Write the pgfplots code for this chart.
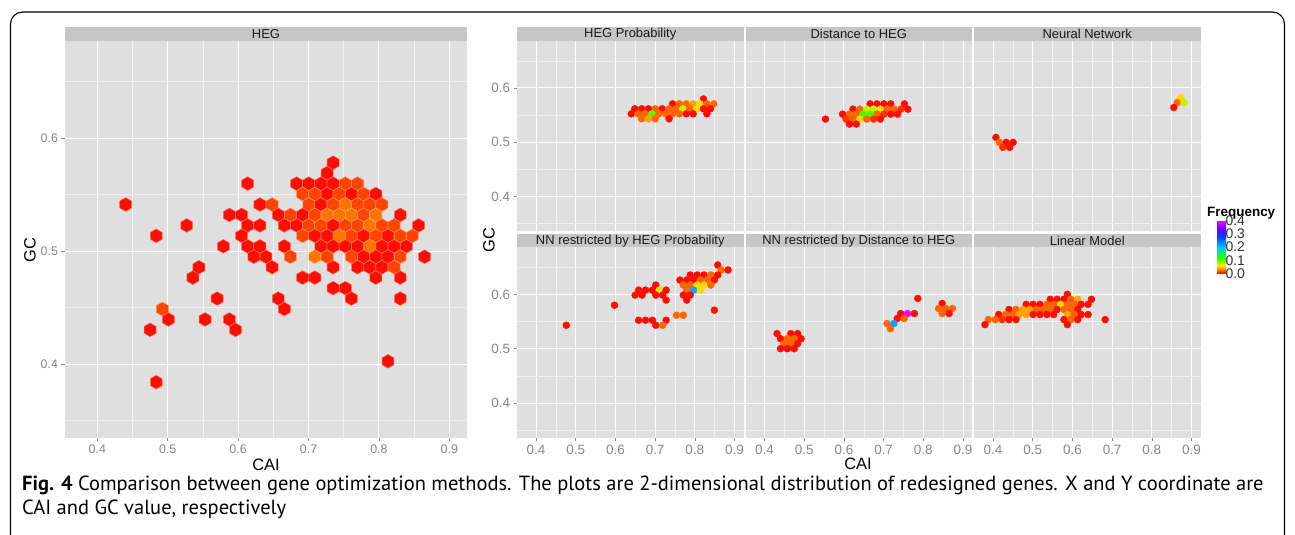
\documentclass[border=0pt]{standalone}
\usepackage{fontspec}
\setmainfont{Liberation Sans}
\newfontfamily\capfont{PT Sans}
\usepackage{pgfplots}
\pgfplotsset{compat=1.18}
\definecolor{panelbg}{HTML}{DFDFDF}
\definecolor{stripbg}{HTML}{C6C6C6}
\definecolor{ticklab}{HTML}{888888}
\definecolor{striptext}{HTML}{1A1A1A}

\pgfdeclareplotmark{hexa}{%
  \pgfpathmoveto{\pgfqpointpolar{90}{\pgfplotmarksize}}%
  \pgfpathlineto{\pgfqpointpolar{150}{\pgfplotmarksize}}%
  \pgfpathlineto{\pgfqpointpolar{210}{\pgfplotmarksize}}%
  \pgfpathlineto{\pgfqpointpolar{270}{\pgfplotmarksize}}%
  \pgfpathlineto{\pgfqpointpolar{330}{\pgfplotmarksize}}%
  \pgfpathlineto{\pgfqpointpolar{30}{\pgfplotmarksize}}%
  \pgfpathclose
  \pgfusepathqfillstroke}

\pgfplotsset{
  colormap={freq}{rgb255(0cm)=(255,0,0) rgb255(3cm)=(255,128,0) rgb255(6cm)=(255,235,0) rgb255(12cm)=(40,255,0) rgb255(20cm)=(0,200,255) rgb255(28cm)=(0,60,255) rgb255(34cm)=(110,0,255) rgb255(40cm)=(255,0,255)},
  facet/.style={
    scale only axis,
    axis background/.style={fill=panelbg},
    axis line style={draw=none},
    grid=both,
    major grid style={white, line width=0.9bp},
    minor grid style={white!55!panelbg, line width=0.5bp},
    xtick={0.4,0.5,0.6,0.7,0.8,0.9},
    minor xtick={0.35,0.45,0.55,0.65,0.75,0.85},
    ytick={0.4,0.5,0.6},
    minor ytick={0.35,0.45,0.55,0.65},
    tick pos=left,
    tick align=outside,
    major tick length=3.5bp,
    minor tick length=0pt,
    tick style={ticklab, line width=0.6bp},
    tick label style={text=ticklab, font=\fontsize{13.5}{13.5}\selectfont},
    /pgf/number format/assume math mode=true,
    colormap name=freq,
    point meta min=0, point meta max=0.4,
  },
  rpanel/.style={facet, width=226.5bp, height=190.5bp, xmin=0.352, xmax=0.9227, ymin=0.3355, ymax=0.6865},
  nox/.style={xticklabel=\empty, xtick style={draw=none}},
  noy/.style={yticklabel=\empty, ytick style={draw=none}},
  dots/.style={scatter, only marks, mark=*, mark size=3.5bp, point meta=explicit,
    scatter/use mapped color={draw=mapped color, fill=mapped color}},
}

\begin{document}
\begin{tikzpicture}
\useasboundingbox (0bp,0bp) rectangle (1295bp,535bp);
\begin{scope}[x=1bp,y=1bp]
\fill[white] (0,0) rectangle (1295,535);
\clip (0,0) rectangle (1295,535);
\draw[line width=1.1bp, rounded corners=12bp] (10.5,523) rectangle (1284.5,-40);
\end{scope}

% ---------------- left panel: HEG ----------------
\begin{axis}[facet, at={(65bp,494bp)}, anchor=north west, width=402bp, height=397bp,
  xmin=0.3541, xmax=0.9251, ymin=0.3345, ymax=0.6858,
  tick label style={font=\fontsize{12.5}{12.5}\selectfont}]
\addplot[scatter, only marks, mark=hexa, mark size=6.9bp, point meta=explicit,
  mark options={line width=0.5bp},
  scatter/use mapped color={draw=mapped color!60!white, fill=mapped color}] table[meta=c] {
x y c
0.7349 0.5781 0.003
0.7263 0.5689 0.003
0.6136 0.5596 0.003
0.6830 0.5596 0.003
0.7003 0.5596 0.003
0.7176 0.5596 0.003
0.7349 0.5596 0.003
0.7523 0.5596 0.016
0.7696 0.5596 0.016
0.6916 0.5504 0.016
0.7089 0.5504 0.016
0.7263 0.5504 0.003
0.7436 0.5504 0.016
0.7609 0.5504 0.003
0.7783 0.5504 0.016
0.7956 0.5504 0.003
0.4403 0.5411 0.003
0.6310 0.5411 0.003
0.6483 0.5411 0.016
0.7003 0.5411 0.016
0.7176 0.5411 0.003
0.7349 0.5411 0.016
0.7523 0.5411 0.027
0.7696 0.5411 0.016
0.7869 0.5411 0.016
0.8043 0.5411 0.016
0.5876 0.5319 0.003
0.6050 0.5319 0.003
0.6570 0.5319 0.003
0.6743 0.5319 0.016
0.6916 0.5319 0.003
0.7089 0.5319 0.016
0.7263 0.5319 0.027
0.7436 0.5319 0.027
0.7609 0.5319 0.027
0.7783 0.5319 0.016
0.7956 0.5319 0.027
0.8303 0.5319 0.003
0.5270 0.5226 0.003
0.6136 0.5226 0.003
0.6310 0.5226 0.003
0.6656 0.5226 0.003
0.6830 0.5226 0.003
0.7003 0.5226 0.016
0.7176 0.5226 0.016
0.7349 0.5226 0.003
0.7523 0.5226 0.016
0.7696 0.5226 0.016
0.7869 0.5226 0.027
0.8043 0.5226 0.016
0.8216 0.5226 0.016
0.8563 0.5226 0.003
0.4837 0.5134 0.003
0.6050 0.5134 0.003
0.6916 0.5134 0.016
0.7089 0.5134 0.003
0.7263 0.5134 0.003
0.7436 0.5134 0.027
0.7609 0.5134 0.016
0.7783 0.5134 0.003
0.7956 0.5134 0.016
0.8129 0.5134 0.003
0.8303 0.5134 0.016
0.8476 0.5134 0.016
0.5790 0.5041 0.003
0.6136 0.5041 0.003
0.6310 0.5041 0.003
0.6656 0.5041 0.003
0.7176 0.5041 0.003
0.7349 0.5041 0.003
0.7523 0.5041 0.003
0.7696 0.5041 0.003
0.7869 0.5041 0.027
0.8043 0.5041 0.003
0.8216 0.5041 0.003
0.8389 0.5041 0.003
0.6223 0.4949 0.003
0.6396 0.4949 0.003
0.6743 0.4949 0.016
0.7089 0.4949 0.027
0.7263 0.4949 0.016
0.7609 0.4949 0.016
0.7783 0.4949 0.003
0.7956 0.4949 0.003
0.8129 0.4949 0.003
0.8303 0.4949 0.016
0.8649 0.4949 0.003
0.5443 0.4856 0.003
0.6483 0.4856 0.003
0.7349 0.4856 0.003
0.7696 0.4856 0.003
0.7869 0.4856 0.003
0.8043 0.4856 0.003
0.8216 0.4856 0.016
0.5356 0.4764 0.003
0.6916 0.4764 0.003
0.7089 0.4764 0.003
0.7956 0.4764 0.003
0.8303 0.4764 0.003
0.7349 0.4671 0.003
0.7523 0.4671 0.003
0.5703 0.4579 0.003
0.6570 0.4579 0.003
0.7609 0.4579 0.003
0.8303 0.4579 0.003
0.4923 0.4486 0.016
0.6656 0.4486 0.003
0.5010 0.4394 0.003
0.5530 0.4394 0.003
0.5876 0.4394 0.003
0.4750 0.4302 0.003
0.5963 0.4302 0.003
0.8129 0.4024 0.003
0.4837 0.3839 0.003
};
\end{axis}

% ---------------- right: row 1 ----------------
\begin{axis}[rpanel, nox, at={(517bp,494bp)}, anchor=north west]
\addplot[dots] table[meta=c] {
x y c
0.8218 0.5798 0.003
0.7439 0.5706 0.003
0.7612 0.5706 0.024
0.7785 0.5706 0.024
0.7958 0.5706 0.040
0.8131 0.5706 0.055
0.8304 0.5706 0.024
0.8477 0.5706 0.024
0.6487 0.5615 0.003
0.6660 0.5615 0.003
0.6833 0.5615 0.003
0.7006 0.5615 0.024
0.7179 0.5615 0.003
0.7352 0.5615 0.024
0.7525 0.5615 0.024
0.7698 0.5615 0.075
0.7871 0.5615 0.024
0.8045 0.5615 0.055
0.8218 0.5615 0.003
0.8391 0.5615 0.003
0.6400 0.5523 0.003
0.6574 0.5523 0.024
0.6747 0.5523 0.024
0.6920 0.5523 0.110
0.7093 0.5523 0.024
0.7266 0.5523 0.024
0.7439 0.5523 0.024
0.7612 0.5523 0.024
0.7785 0.5523 0.003
0.7958 0.5523 0.003
0.8304 0.5523 0.003
0.6660 0.5431 0.024
0.6833 0.5431 0.040
0.7006 0.5431 0.024
0.7352 0.5431 0.003
};
\end{axis}

\begin{axis}[rpanel, nox, noy, at={(745.5bp,494bp)}, anchor=north west]
\addplot[dots] table[meta=c] {
x y c
0.6660 0.5706 0.003
0.6833 0.5706 0.003
0.7006 0.5706 0.003
0.7179 0.5706 0.003
0.7525 0.5706 0.003
0.6227 0.5609 0.003
0.6400 0.5609 0.024
0.6573 0.5609 0.075
0.6746 0.5609 0.075
0.6919 0.5609 0.055
0.7092 0.5609 0.024
0.7265 0.5609 0.024
0.7438 0.5609 0.012
0.7611 0.5609 0.003
0.5967 0.5517 0.003
0.6140 0.5517 0.024
0.6314 0.5517 0.024
0.6487 0.5517 0.110
0.6660 0.5517 0.110
0.6833 0.5517 0.024
0.7006 0.5517 0.012
0.7179 0.5517 0.003
0.7352 0.5517 0.003
0.5535 0.5426 0.003
0.6054 0.5426 0.012
0.6227 0.5426 0.024
0.6400 0.5426 0.055
0.6573 0.5426 0.024
0.6746 0.5426 0.012
0.6919 0.5426 0.003
0.6140 0.5334 0.003
0.6314 0.5334 0.003
};
\end{axis}

\begin{axis}[rpanel, nox, noy, at={(974bp,494bp)}, anchor=north west]
\addplot[dots] table[meta=c] {
x y c
0.8727 0.5822 0.055
0.8641 0.5730 0.024
0.8814 0.5730 0.075
0.8554 0.5639 0.003
0.4072 0.5088 0.003
0.4159 0.4996 0.024
0.4332 0.4996 0.003
0.4505 0.4996 0.003
0.4245 0.4905 0.012
0.4418 0.4905 0.003
};
\end{axis}

% ---------------- right: row 2 ----------------
\begin{axis}[rpanel, at={(517bp,287.5bp)}, anchor=north west]
\addplot[dots] table[meta=c] {
x y c
0.4763 0.5432 0.003
0.5977 0.5802 0.003
0.7018 0.6173 0.003
0.6584 0.6080 0.003
0.6758 0.6080 0.003
0.6931 0.6080 0.003
0.7105 0.6080 0.075
0.7278 0.6080 0.003
0.6497 0.5988 0.003
0.6671 0.5988 0.003
0.7018 0.5988 0.003
0.7191 0.5988 0.003
0.7278 0.5895 0.003
0.6584 0.5525 0.003
0.6758 0.5525 0.003
0.6931 0.5525 0.003
0.7278 0.5525 0.003
0.7018 0.5432 0.003
0.7191 0.5432 0.024
0.8578 0.6543 0.003
0.8665 0.6451 0.024
0.8838 0.6451 0.003
0.7885 0.6358 0.003
0.8058 0.6358 0.003
0.8232 0.6358 0.003
0.8405 0.6358 0.024
0.8578 0.6358 0.003
0.7625 0.6265 0.003
0.7798 0.6265 0.003
0.7971 0.6265 0.003
0.8145 0.6265 0.024
0.8318 0.6265 0.024
0.8492 0.6265 0.003
0.7711 0.6173 0.024
0.7885 0.6173 0.024
0.8058 0.6173 0.055
0.8232 0.6173 0.055
0.8405 0.6173 0.024
0.7798 0.6080 0.024
0.7971 0.6080 0.220
0.8145 0.6080 0.055
0.7711 0.5988 0.003
0.7885 0.5988 0.003
0.7798 0.5895 0.003
0.8492 0.5710 0.003
0.7538 0.5617 0.024
0.7711 0.5617 0.024
};
\end{axis}

\begin{axis}[rpanel, noy, at={(745.5bp,287.5bp)}, anchor=north west]
\addplot[dots] table[meta=c] {
x y c
0.4315 0.5278 0.003
0.4661 0.5278 0.003
0.4834 0.5278 0.003
0.4402 0.5185 0.003
0.4575 0.5185 0.024
0.4748 0.5185 0.024
0.4921 0.5185 0.003
0.4488 0.5093 0.024
0.4661 0.5093 0.024
0.4834 0.5093 0.003
0.4402 0.5000 0.003
0.4575 0.5000 0.003
0.4748 0.5000 0.003
0.7862 0.5926 0.003
0.7430 0.5648 0.003
0.7603 0.5648 0.400
0.7776 0.5648 0.003
0.7343 0.5556 0.003
0.7516 0.5556 0.024
0.7084 0.5463 0.024
0.7257 0.5463 0.220
0.7170 0.5370 0.024
0.8475 0.5833 0.003
0.8386 0.5741 0.024
0.8562 0.5741 0.024
0.8735 0.5741 0.024
0.8475 0.5648 0.024
0.8649 0.5648 0.003
};
\end{axis}

\begin{axis}[rpanel, noy, at={(974bp,287.5bp)}, anchor=north west,
  colorbar,
  colorbar style={at={(parent axis.north east)}, anchor=north west,
    xshift=8bp, yshift=27bp,
    scale only axis, width=9bp, height=53bp,
    axis line style={draw=none},
    ytick={0,0.1,0.2,0.3,0.4},
    major tick length=0pt,
    yticklabel pos=right,
    yticklabel style={font=\fontsize{14}{14}\selectfont, text=black!80, xshift=-4bp,
      /pgf/number format/.cd, fixed, fixed zerofill, precision=1, assume math mode=true},
  }]
\addplot[dots] table[meta=c] {
x y c
0.5873 0.6003 0.003
0.5441 0.5910 0.003
0.5614 0.5910 0.003
0.5787 0.5910 0.003
0.5960 0.5910 0.024
0.6133 0.5910 0.040
0.6479 0.5910 0.003
0.4835 0.5817 0.003
0.5008 0.5817 0.003
0.5181 0.5817 0.003
0.5354 0.5817 0.024
0.5527 0.5817 0.024
0.5700 0.5817 0.055
0.5873 0.5817 0.024
0.6047 0.5817 0.024
0.6220 0.5817 0.003
0.6393 0.5817 0.003
0.4402 0.5723 0.003
0.4575 0.5723 0.024
0.4748 0.5723 0.040
0.4921 0.5723 0.040
0.5094 0.5723 0.024
0.5268 0.5723 0.024
0.5441 0.5723 0.024
0.5614 0.5723 0.003
0.5787 0.5723 0.024
0.5960 0.5723 0.024
0.6133 0.5723 0.003
0.4142 0.5630 0.003
0.4315 0.5630 0.024
0.4488 0.5630 0.024
0.4661 0.5630 0.040
0.4835 0.5630 0.040
0.5008 0.5630 0.003
0.5181 0.5630 0.003
0.5354 0.5630 0.003
0.5527 0.5630 0.003
0.5873 0.5630 0.040
0.6047 0.5630 0.024
0.6220 0.5630 0.003
0.6393 0.5630 0.003
0.3882 0.5536 0.024
0.4055 0.5536 0.024
0.4229 0.5536 0.012
0.4402 0.5536 0.003
0.4575 0.5536 0.003
0.5787 0.5536 0.003
0.5960 0.5536 0.024
0.6133 0.5536 0.003
0.6826 0.5536 0.003
0.3796 0.5444 0.003
0.5873 0.5444 0.003
};
\end{axis}

\begin{scope}[x=1bp,y=1bp]
% ---------------- strips ----------------
\begin{scope}[font=\fontsize{13}{13}\selectfont, text=striptext]
\fill[stripbg] (65,508) rectangle (467,494);
\node at (266,501) {HEG};
\fill[stripbg] (517,508) rectangle (743.5,494);
\node at (630.25,501) {HEG Probability};
\fill[stripbg] (745.5,508) rectangle (972,494);
\node at (858.75,501) {Distance to HEG};
\fill[stripbg] (974,508) rectangle (1200.5,494);
\node at (1087.25,501) {Neural Network};
\fill[stripbg] (517,301) rectangle (743.5,287.5);
\node at (630.25,294.25) {NN restricted by HEG Probability};
\fill[stripbg] (745.5,301) rectangle (972,287.5);
\node at (858.75,294.25) {NN restricted by Distance to HEG};
\fill[stripbg] (974,301) rectangle (1200.5,287.5);
\node at (1087.25,294.25) {Linear Model};
\end{scope}

% ---------------- axis titles ----------------
\begin{scope}[font=\fontsize{16.5}{17}\selectfont]
\node at (266,70) {CAI};
\node[rotate=90] at (30,285) {GC};
\node at (858,71) {CAI};
\node[rotate=90] at (489,295) {GC};
\end{scope}
\node[anchor=west, inner sep=0, font=\bfseries\fontsize{13.5}{13.5}\selectfont] at (1207,322) {Frequency};

% ---------------- caption ----------------
\node[anchor=base west, inner sep=0, font=\capfont\fontsize{20.55}{24}\selectfont] at (22,45)
  {\textbf{Fig. 4} Comparison between gene optimization methods. The plots are 2-dimensional distribution of redesigned genes. X and Y coordinate are};
\node[anchor=base west, inner sep=0, font=\capfont\fontsize{20.55}{24}\selectfont] at (22,21)
  {CAI and GC value, respectively};
\end{scope}
\end{tikzpicture}
\end{document}
